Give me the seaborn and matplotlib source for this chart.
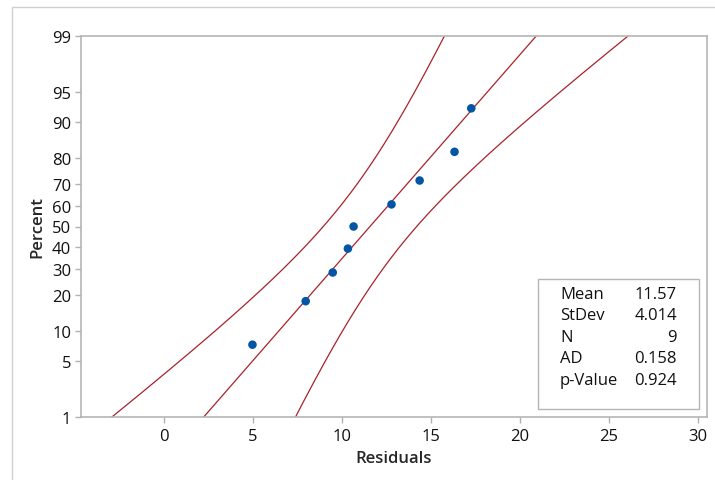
import numpy as np
import pandas as pd
import matplotlib
matplotlib.use("Agg")
import matplotlib.pyplot as plt
from matplotlib.patches import Rectangle
import seaborn as sns
from statistics import NormalDist

# ---- data ----
residuals = [4.97, 7.96, 9.48, 10.33, 10.65, 12.78, 14.36, 16.32, 17.26]
percents = [7.45, 18.09, 28.72, 39.36, 50.0, 60.64, 71.28, 81.91, 92.55]
y_ticks_pct = [1, 5, 10, 20, 30, 40, 50, 60, 70, 80, 90, 95, 99]
x_ticks = [0, 5, 10, 15, 20, 25, 30]
stat_names = ["Mean", "StDev", "N", "AD", "p-Value"]
stat_values = ["11.57", "4.014", "9", "0.158", "0.924"]
mean_v = 11.57
sd_v = 4.014
n_v = 9

nd = NormalDist()
def z_of(p):
    return nd.inv_cdf(p / 100.0)

sns.set_style("white")
plt.rcParams['font.family'] = ['Open Sans', 'DejaVu Sans']

fig = plt.figure(figsize=(7.15, 4.81), dpi=100)
ax = fig.add_axes([81/715, 1-418/481, (707-81)/715, (418-37)/481])

# outer frame
fig.patches.append(Rectangle((12/715, -0.1), 1.2, 1.1 - 8/481, transform=fig.transFigure,
                             fill=False, edgecolor="#d0d0d0", linewidth=1.0))

# fit line and confidence bands
zz = np.linspace(-2.7, 2.7, 200)
center = mean_v + sd_v * zz
half = 1.96 * sd_v * np.sqrt(1.0 / n_v + zz**2 / (2 * n_v - 1))
lines = pd.DataFrame({
    "x": np.concatenate([center, center - half, center + half]),
    "z": np.concatenate([zz, zz, zz]),
    "k": ["fit"] * len(zz) + ["lo"] * len(zz) + ["hi"] * len(zz),
})
line_color = "#a8232a"
for k in ["fit", "lo", "hi"]:
    sub = lines[lines["k"] == k]
    sns.lineplot(data=sub, x="x", y="z", sort=False, estimator=None, color=line_color,
                 linewidth=0.9, ax=ax, legend=False)

pts = pd.DataFrame({"x": residuals, "z": [z_of(p) for p in percents]})
sns.scatterplot(data=pts, x="x", y="z", color="#0455a4", s=38, edgecolor="none", ax=ax, zorder=5)

ax.set_xlim(-4.66, 30.5)
ax.set_ylim(z_of(1), z_of(99))
ax.set_xticks(x_ticks)
ax.set_xticklabels([str(v) for v in x_ticks])
ax.set_yticks([z_of(p) for p in y_ticks_pct])
ax.set_yticklabels([str(p) for p in y_ticks_pct])
ax.tick_params(axis="both", direction="out", length=4, width=1, color="#b0b0b0",
               labelsize=12, labelcolor="#111111", pad=3)
ax.tick_params(axis="x", pad=4)
ax.tick_params(left=True, bottom=True)
for s in ax.spines.values():
    s.set_color("#b5b5b5")
    s.set_linewidth(1.2)

ax.set_xlabel("Residuals", fontsize=12, fontweight="semibold", labelpad=4)
ax.set_ylabel("Percent", fontsize=12, fontweight="semibold", labelpad=5)

# stats box
bx0, by0, bx1, by1 = 538, 280, 699, 410
fig.patches.append(Rectangle((bx0/715, 1-by1/481), (bx1-bx0)/715, (by1-by0)/481,
                             transform=fig.transFigure, fill=True, facecolor="white",
                             edgecolor="#b5b5b5", linewidth=1.0, zorder=10))
row_y = [295, 316.5, 338, 359.5, 381]
for name, val, yy in zip(stat_names, stat_values, row_y):
    fig.text(560/715, 1-yy/481, name, ha="left", va="center", fontsize=12,
             color="#111111", zorder=11)
    fig.text(677/715, 1-yy/481, val, ha="right", va="center", fontsize=12,
             color="#111111", zorder=11)

fig.savefig("out.png", dpi=100)
